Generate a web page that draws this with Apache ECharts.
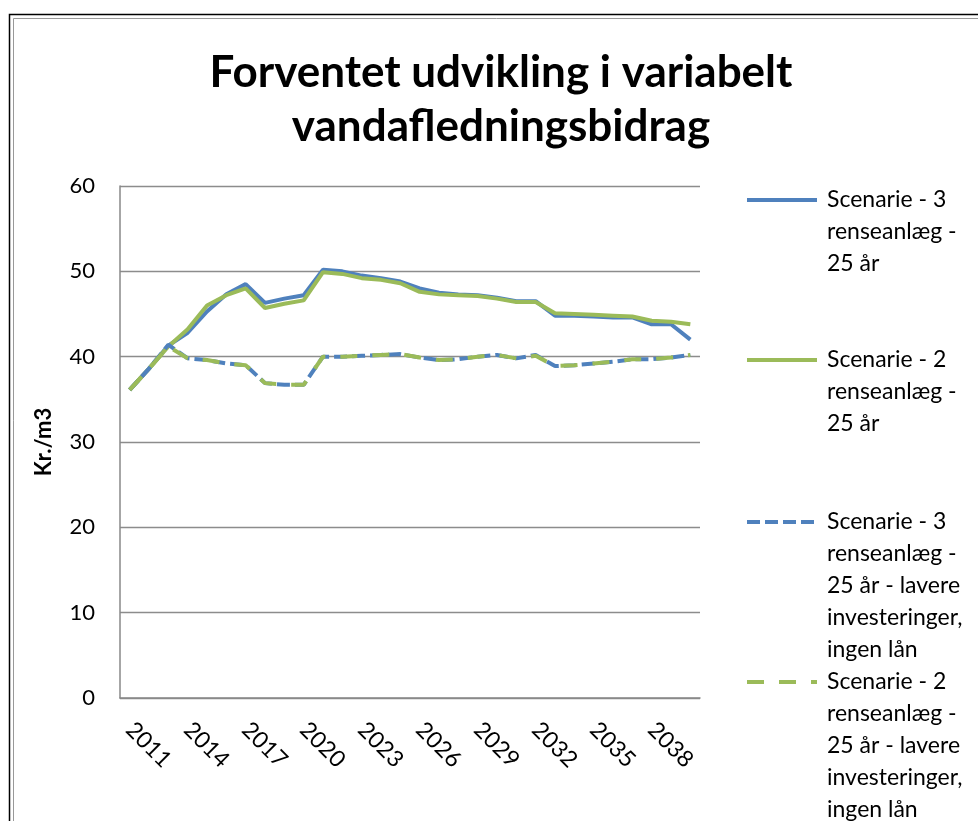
<!DOCTYPE html>
<html>
<head>
<meta charset="utf-8">
<title>Forventet udvikling i variabelt vandafledningsbidrag</title>
<script src="https://cdn.jsdelivr.net/npm/echarts@6/dist/echarts.min.js"></script>
<style>
  html, body { margin: 0; padding: 0; background: #fff; }
  #chart { width: 978px; height: 821px; }
</style>
</head>
<body>
<div id="chart"></div>
<script>
// years 2011 - 2040
var years = [];
for (var y = 2011; y <= 2040; y++) years.push(String(y));

var names = [
  'Scenarie - 3\nrenseanlæg -\n25 år',
  'Scenarie - 2\nrenseanlæg -\n25 år',
  'Scenarie - 3\nrenseanlæg -\n25 år - lavere\ninvesteringer,\ningen lån',
  'Scenarie - 2\nrenseanlæg -\n25 år - lavere\ninvesteringer,\ningen lån'
];

var scen3 = [36.1, 38.6, 41.3, 42.8, 45.3, 47.3, 48.5, 46.3, 46.8, 47.2,
             50.2, 50.0, 49.5, 49.2, 48.8, 48.0, 47.5, 47.3, 47.2, 46.9,
             46.5, 46.5, 44.8, 44.8, 44.7, 44.6, 44.6, 43.8, 43.8, 42.0];
var scen2 = [36.1, 38.6, 41.2, 43.2, 46.0, 47.2, 48.0, 45.7, 46.2, 46.6,
             49.9, 49.7, 49.2, 49.0, 48.6, 47.6, 47.3, 47.2, 47.1, 46.8,
             46.4, 46.4, 45.1, 45.0, 44.9, 44.8, 44.7, 44.2, 44.1, 43.8];
var scen3Low = [36.1, 38.6, 41.4, 39.8, 39.6, 39.2, 39.0, 36.9, 36.7, 36.7,
                40.0, 40.0, 40.1, 40.2, 40.3, 39.9, 39.6, 39.7, 40.0, 40.2,
                39.8, 40.2, 38.9, 39.0, 39.2, 39.4, 39.7, 39.7, 39.9, 40.2];
var scen2Low = [36.1, 38.6, 41.2, 39.8, 39.6, 39.2, 39.0, 36.9, 36.7, 36.7,
                40.0, 40.0, 40.1, 40.2, 40.3, 39.9, 39.6, 39.7, 40.0, 40.2,
                39.8, 40.1, 38.9, 39.0, 39.2, 39.4, 39.7, 39.7, 39.9, 40.2];

var BLUE = '#4F81BD', GREEN = '#9BBB59';
var FONT = 'Lato';

// legend text is centred on its icon, so pad with blank lines to put the icon on line one
function padded(name) {
  var n = name.split('\n').length;
  return new Array(n).join('\n') + name;
}
function legendAt(name, top) {
  return {
    data: [name],
    left: 745,
    top: top,
    padding: 0,
    orient: 'vertical',
    itemWidth: 70,
    itemHeight: 14,
    formatter: padded,
    selectedMode: false,
    itemStyle: { opacity: 0 },
    lineStyle: { width: 4 },
    textStyle: { fontFamily: FONT, fontSize: 23, lineHeight: 32, color: '#000', padding: [0, 0, 0, 5] }
  };
}

var chart = echarts.init(document.getElementById('chart'));
chart.setOption({
  animation: false,
  backgroundColor: '#fff',
  title: {
    text: 'Forventet udvikling i variabelt\nvandafledningsbidrag',
    left: 496,
    top: 41,
    textAlign: 'center',
    textStyle: { fontFamily: FONT, fontSize: 44, fontWeight: 'bold', lineHeight: 54, color: '#000' }
  },
  graphic: [
    { type: 'rect', shape: { x: 9.5, y: 14.5, width: 1000, height: 900 }, style: { fill: null, stroke: '#000', lineWidth: 1.5 }, silent: true },
    { type: 'rect', shape: { x: 13.5, y: 18.5, width: 1000, height: 900 }, style: { fill: null, stroke: '#999', lineWidth: 1 }, silent: true }
  ],
  legend: [
    legendAt(names[0], 120),
    legendAt(names[1], 280),
    legendAt(names[2], 378),
    legendAt(names[3], 538)
  ],
  grid: { left: 120, right: 278, top: 186, bottom: 123 },
  xAxis: {
    type: 'category',
    data: years,
    boundaryGap: true,
    axisLine: { lineStyle: { color: '#888', width: 1.5 } },
    axisTick: { show: false },
    axisLabel: { interval: 2, rotate: -45, margin: 28, fontFamily: FONT, fontSize: 23, color: '#000' }
  },
  yAxis: {
    type: 'value',
    min: 0,
    max: 60,
    interval: 10,
    name: 'Kr./m3',
    nameLocation: 'middle',
    nameGap: 65,
    nameTextStyle: { fontFamily: FONT, fontSize: 22, fontWeight: 'bold', color: '#000' },
    axisLine: { show: true, lineStyle: { color: '#888', width: 1.5 } },
    axisTick: { show: false },
    axisLabel: { margin: 25, fontFamily: FONT, fontSize: 22, color: '#000' },
    splitLine: { lineStyle: { color: '#8c8c8c', width: 1.3 } }
  },
  series: [
    { name: names[0], type: 'line', data: scen3, symbol: 'none', color: BLUE, lineStyle: { color: BLUE, width: 4 } },
    { name: names[1], type: 'line', data: scen2, symbol: 'none', color: GREEN, lineStyle: { color: GREEN, width: 4 } },
    { name: names[2], type: 'line', data: scen3Low, symbol: 'none', color: BLUE, lineStyle: { color: BLUE, width: 4, type: [13, 5] } },
    { name: names[3], type: 'line', data: scen2Low, symbol: 'none', color: GREEN, lineStyle: { color: GREEN, width: 4, type: [17, 15] } }
  ]
});
</script>
</body>
</html>
